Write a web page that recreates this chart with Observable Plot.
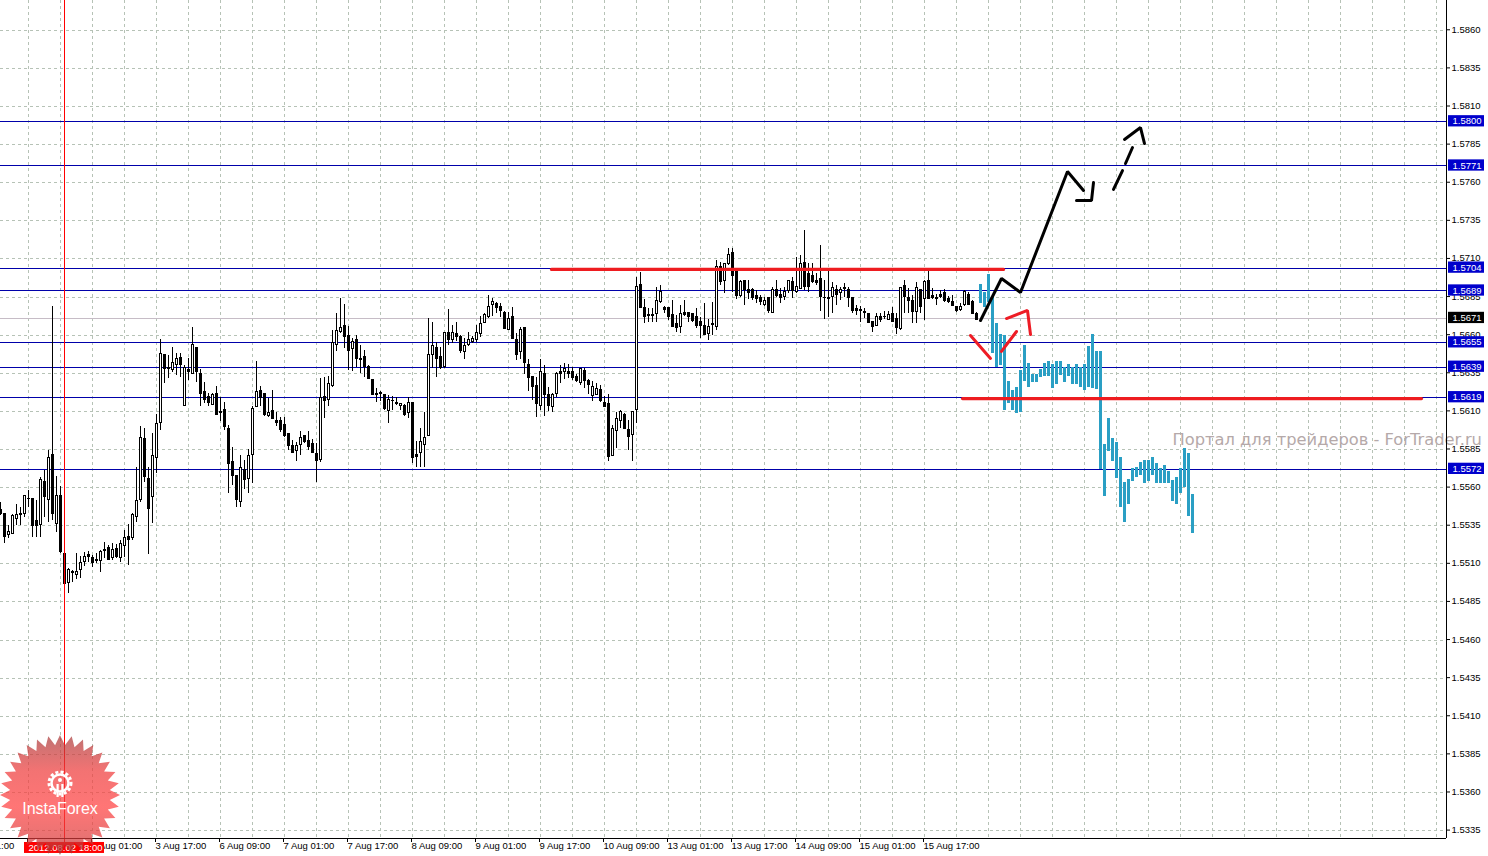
<!DOCTYPE html>
<html><head><meta charset="utf-8">
<script src="https://cdn.jsdelivr.net/npm/d3@7"></script>
<script src="https://cdn.jsdelivr.net/npm/@observablehq/plot@0.6"></script>
<style>html,body{margin:0;padding:0;background:#fff}#chart{position:relative;width:1488px;height:856px;overflow:hidden}svg{display:block}</style>
</head><body><div id="chart"></div>
<script>
const opens=[1.55450,1.55424,1.55288,1.55297,1.55393,1.55428,1.55428,1.55527,1.55522,1.55378,1.55356,1.55640,1.55520,1.55811,1.55358,1.55542,1.55166,1.54973,1.55045,1.55024,1.55061,1.55115,1.55155,1.55139,1.55126,1.55118,1.55190,1.55201,1.55139,1.55199,1.55137,1.55218,1.55277,1.55269,1.55406,1.55516,1.55922,1.55658,1.55537,1.55796,1.56023,1.56473,1.56384,1.56373,1.56401,1.56447,1.56134,1.56369,1.56347,1.56517,1.56347,1.56226,1.56194,1.56145,1.56215,1.56097,1.56110,1.55986,1.55769,1.55673,1.55505,1.55717,1.55656,1.55813,1.56128,1.56233,1.56211,1.56069,1.56100,1.56040,1.56040,1.56010,1.55949,1.55870,1.55839,1.55879,1.55940,1.55907,1.55885,1.55820,1.55782,1.56196,1.56176,1.56264,1.56537,1.56619,1.56657,1.56595,1.56510,1.56569,1.56444,1.56460,1.56390,1.56309,1.56215,1.56219,1.56210,1.56105,1.56171,1.56156,1.56134,1.56138,1.56088,1.56154,1.55817,1.55826,1.55882,1.55939,1.56473,1.56517,1.56460,1.56394,1.56611,1.56571,1.56608,1.56591,1.56488,1.56534,1.56552,1.56565,1.56608,1.56678,1.56718,1.56797,1.56807,1.56788,1.56748,1.56635,1.56720,1.56571,1.56488,1.56650,1.56407,1.56326,1.56269,1.56134,1.56348,1.56208,1.56127,1.56213,1.56359,1.56357,1.56361,1.56361,1.56324,1.56285,1.56368,1.56302,1.56204,1.56210,1.56237,1.56156,1.56149,1.55810,1.55974,1.56035,1.56079,1.55979,1.55944,1.56110,1.56930,1.56779,1.56733,1.56729,1.56740,1.56816,1.56779,1.56779,1.56729,1.56670,1.56652,1.56744,1.56744,1.56740,1.56718,1.56685,1.56657,1.56608,1.56670,1.56652,1.57046,1.56954,1.57068,1.57140,1.57013,1.56860,1.56958,1.56897,1.56893,1.56860,1.56845,1.56801,1.56842,1.56744,1.56897,1.56862,1.56853,1.56888,1.56952,1.56880,1.56904,1.57074,1.56998,1.56991,1.56958,1.56969,1.56847,1.56845,1.56853,1.56899,1.56875,1.56908,1.56899,1.56842,1.56772,1.56768,1.56751,1.56740,1.56685,1.56663,1.56718,1.56720,1.56702,1.56740,1.56705,1.56641,1.56921,1.56845,1.56821,1.56751,1.56897,1.56836,1.56958,1.56860,1.56845,1.56866,1.56875,1.56838,1.56818,1.56788,1.56762,1.56797,1.56866,1.56816,1.56740];
const highs=[1.55505,1.55424,1.55352,1.55422,1.55489,1.55467,1.55548,1.55581,1.55522,1.55516,1.55669,1.55712,1.55844,1.56788,1.55673,1.55607,1.55275,1.55067,1.55056,1.55166,1.55148,1.55177,1.55183,1.55155,1.55166,1.55188,1.55242,1.55220,1.55231,1.55227,1.55253,1.55319,1.55358,1.55428,1.55734,1.56001,1.55986,1.55734,1.55957,1.56078,1.56570,1.56473,1.56467,1.56522,1.56482,1.56482,1.56399,1.56445,1.56653,1.56517,1.56373,1.56292,1.56220,1.56215,1.56264,1.56194,1.56161,1.56008,1.55865,1.55673,1.55811,1.55778,1.55848,1.56132,1.56428,1.56264,1.56215,1.56183,1.56237,1.56095,1.56058,1.56058,1.55949,1.55909,1.55898,1.55970,1.55942,1.55970,1.55914,1.55887,1.56314,1.56320,1.56329,1.56631,1.56745,1.56838,1.56801,1.56657,1.56576,1.56598,1.56532,1.56499,1.56401,1.56309,1.56248,1.56232,1.56210,1.56204,1.56197,1.56193,1.56154,1.56145,1.56189,1.56154,1.55902,1.55985,1.56095,1.56707,1.56685,1.56554,1.56521,1.56619,1.56766,1.56663,1.56685,1.56598,1.56576,1.56619,1.56591,1.56663,1.56722,1.56744,1.56860,1.56838,1.56816,1.56810,1.56757,1.56751,1.56783,1.56608,1.56652,1.56650,1.56438,1.56324,1.56324,1.56438,1.56401,1.56259,1.56215,1.56355,1.56401,1.56416,1.56405,1.56390,1.56342,1.56383,1.56383,1.56307,1.56296,1.56280,1.56269,1.56197,1.56208,1.56005,1.56095,1.56105,1.56084,1.56040,1.56101,1.56980,1.57009,1.56831,1.56772,1.56772,1.56915,1.56926,1.56788,1.56783,1.56827,1.56729,1.56794,1.56827,1.56751,1.56744,1.56772,1.56718,1.56805,1.56700,1.56816,1.57090,1.57079,1.57072,1.57166,1.57166,1.57024,1.56958,1.56958,1.56958,1.56904,1.56893,1.56860,1.56849,1.56849,1.56915,1.56958,1.56904,1.56915,1.56958,1.56980,1.57111,1.57122,1.57286,1.57068,1.57068,1.57002,1.57188,1.56958,1.57024,1.56947,1.56926,1.56915,1.56936,1.56915,1.56849,1.56794,1.56788,1.56772,1.56740,1.56692,1.56740,1.56744,1.56757,1.56757,1.56783,1.56740,1.56915,1.56958,1.56904,1.56860,1.56947,1.56897,1.56958,1.57024,1.56904,1.56866,1.56893,1.56899,1.56853,1.56860,1.56788,1.56805,1.56893,1.56882,1.56827,1.56751];
const lows=[1.55417,1.55231,1.55264,1.55293,1.55352,1.55352,1.55406,1.55472,1.55275,1.55275,1.55271,1.55406,1.55373,1.55384,1.55308,1.55166,1.54914,1.54908,1.54980,1.54997,1.55002,1.55083,1.55111,1.55078,1.55104,1.55045,1.55133,1.55122,1.55122,1.55133,1.55111,1.55144,1.55087,1.55253,1.55373,1.55505,1.55636,1.55161,1.55367,1.55691,1.55975,1.56281,1.56314,1.56358,1.56336,1.56325,1.56134,1.56303,1.56340,1.56292,1.56134,1.56150,1.56132,1.56139,1.56075,1.56036,1.55975,1.55559,1.55614,1.55467,1.55467,1.55586,1.55559,1.55625,1.56124,1.56132,1.56067,1.56058,1.56045,1.56001,1.55964,1.55931,1.55844,1.55826,1.55774,1.55811,1.55887,1.55844,1.55822,1.55636,1.55767,1.56056,1.56132,1.56255,1.56495,1.56608,1.56510,1.56368,1.56364,1.56390,1.56346,1.56320,1.56307,1.56204,1.56160,1.56167,1.56105,1.56022,1.56105,1.56138,1.56105,1.56066,1.56051,1.55756,1.55734,1.55734,1.55729,1.55937,1.56379,1.56324,1.56374,1.56379,1.56532,1.56547,1.56560,1.56482,1.56440,1.56525,1.56543,1.56554,1.56582,1.56674,1.56707,1.56722,1.56740,1.56718,1.56641,1.56630,1.56571,1.56434,1.56438,1.56342,1.56232,1.56171,1.56057,1.56105,1.56066,1.56097,1.56095,1.56193,1.56280,1.56307,1.56313,1.56302,1.56291,1.56269,1.56248,1.56210,1.56167,1.56204,1.56160,1.56127,1.55773,1.55804,1.55854,1.55985,1.55979,1.55843,1.55773,1.56018,1.56772,1.56674,1.56685,1.56685,1.56685,1.56805,1.56740,1.56696,1.56652,1.56619,1.56613,1.56722,1.56685,1.56685,1.56641,1.56576,1.56604,1.56565,1.56597,1.56630,1.56926,1.56875,1.57057,1.56877,1.56831,1.56845,1.56794,1.56834,1.56827,1.56805,1.56794,1.56788,1.56740,1.56740,1.56849,1.56810,1.56827,1.56875,1.56838,1.56875,1.56897,1.56893,1.56882,1.56936,1.56926,1.56757,1.56702,1.56713,1.56740,1.56794,1.56827,1.56849,1.56783,1.56740,1.56729,1.56685,1.56707,1.56674,1.56619,1.56657,1.56685,1.56705,1.56696,1.56685,1.56604,1.56630,1.56740,1.56740,1.56674,1.56674,1.56740,1.56696,1.56834,1.56831,1.56794,1.56838,1.56816,1.56805,1.56794,1.56751,1.56755,1.56788,1.56794,1.56735,1.56696];
const closes=[1.55424,1.55275,1.55310,1.55411,1.55422,1.55419,1.55542,1.55522,1.55347,1.55347,1.55651,1.55537,1.55796,1.55424,1.55548,1.55177,1.54969,1.55061,1.55039,1.55045,1.55107,1.55148,1.55144,1.55104,1.55118,1.55179,1.55185,1.55126,1.55188,1.55144,1.55231,1.55271,1.55258,1.55422,1.55509,1.55927,1.55669,1.55461,1.55809,1.56019,1.56478,1.56379,1.56379,1.56419,1.56441,1.56401,1.56382,1.56358,1.56533,1.56358,1.56211,1.56176,1.56154,1.56209,1.56075,1.56089,1.55997,1.55756,1.55673,1.55516,1.55730,1.55651,1.55809,1.56117,1.56229,1.56189,1.56075,1.56091,1.56049,1.56023,1.55981,1.55938,1.55876,1.55828,1.55870,1.55927,1.55896,1.55865,1.55826,1.55774,1.56189,1.56167,1.56281,1.56548,1.56627,1.56648,1.56587,1.56495,1.56558,1.56442,1.56434,1.56394,1.56313,1.56206,1.56208,1.56215,1.56114,1.56175,1.56167,1.56147,1.56149,1.56073,1.56158,1.55791,1.55804,1.55900,1.55926,1.56473,1.56532,1.56442,1.56385,1.56615,1.56565,1.56617,1.56591,1.56493,1.56532,1.56569,1.56576,1.56615,1.56670,1.56729,1.56788,1.56818,1.56775,1.56757,1.56643,1.56707,1.56573,1.56473,1.56637,1.56416,1.56318,1.56259,1.56149,1.56359,1.56210,1.56134,1.56208,1.56346,1.56346,1.56381,1.56342,1.56320,1.56298,1.56379,1.56302,1.56276,1.56259,1.56250,1.56167,1.56132,1.55804,1.55985,1.56051,1.56095,1.55983,1.55935,1.56097,1.56915,1.56779,1.56722,1.56727,1.56724,1.56827,1.56882,1.56762,1.56718,1.56652,1.56648,1.56740,1.56729,1.56722,1.56696,1.56663,1.56663,1.56604,1.56652,1.56665,1.57046,1.56947,1.57068,1.57129,1.56991,1.56860,1.56952,1.56893,1.56875,1.56845,1.56838,1.56816,1.56827,1.56757,1.56899,1.56858,1.56842,1.56882,1.56954,1.56888,1.56919,1.57068,1.56915,1.56915,1.56947,1.56943,1.56853,1.56845,1.56838,1.56910,1.56866,1.56897,1.56904,1.56842,1.56757,1.56757,1.56757,1.56746,1.56678,1.56652,1.56718,1.56700,1.56716,1.56729,1.56689,1.56648,1.56910,1.56853,1.56821,1.56753,1.56910,1.56783,1.56952,1.56838,1.56845,1.56838,1.56853,1.56827,1.56816,1.56794,1.56757,1.56788,1.56882,1.56799,1.56740,1.56702];
const forecastHighs=[1.56933,1.56882,1.56998,1.56849,1.56674,1.56604,1.56598,1.56296,1.56237,1.56259,1.56368,1.56532,1.56412,1.56340,1.56342,1.56373,1.56412,1.56425,1.56408,1.56425,1.56425,1.56386,1.56408,1.56386,1.56405,1.56390,1.56408,1.56526,1.56602,1.56493,1.56493,1.55883,1.56051,1.55920,1.55896,1.55797,1.55631,1.55653,1.55723,1.55734,1.55762,1.55778,1.55778,1.55795,1.55756,1.55723,1.55745,1.55706,1.55647,1.55664,1.55723,1.55854,1.55822,1.55555];
const forecastLows=[1.56810,1.56784,1.56817,1.56482,1.56386,1.56401,1.56106,1.56154,1.56106,1.56088,1.56095,1.56298,1.56259,1.56292,1.56292,1.56320,1.56331,1.56331,1.56252,1.56276,1.56335,1.56290,1.56329,1.56276,1.56276,1.56255,1.56237,1.56255,1.56248,1.56241,1.55717,1.55542,1.55839,1.55771,1.55660,1.55472,1.55373,1.55489,1.55642,1.55664,1.55679,1.55629,1.55640,1.55679,1.55629,1.55629,1.55625,1.55629,1.55511,1.55489,1.55563,1.55598,1.55410,1.55297];
const priceTicks=[1.5860,1.5835,1.5810,1.5785,1.5760,1.5735,1.5710,1.5685,1.5660,1.5635,1.5610,1.5585,1.5560,1.5535,1.5510,1.5485,1.5460,1.5435,1.5410,1.5385,1.5360,1.5335];
const timeTickBars=[-9,7,23,39,55,71,87,103,119,135,151,167,183,199,215,231];
const timeTickLabels=["2 Aug 01:00","2 Aug 17:00","3 Aug 01:00","3 Aug 17:00","6 Aug 09:00","7 Aug 01:00","7 Aug 17:00","8 Aug 09:00","9 Aug 01:00","9 Aug 17:00","10 Aug 09:00","13 Aug 01:00","13 Aug 17:00","14 Aug 09:00","15 Aug 01:00","15 Aug 17:00"];
const levels=[1.5800,1.5771,1.5704,1.5689,1.5655,1.5639,1.5619,1.5572];
const bidLevel=1.5671;
const cursorBar=16;
const cursorLabel="2012.08.02 18:00";
const resistance={x:[137.75,250.75],y:[1.57031,1.57031]};
const support={x:[240.5,355.25],y:[1.56184,1.56184]};
const blackPaths=[
 {x:[245,250.25,255,266.75,270.75],y:[1.56696,1.56972,1.56880,1.57674,1.57549]},
 {x:[269,272.75,273.25],y:[1.57483,1.57483,1.57601]},
 {x:[278.25,280.5],y:[1.57556,1.57680]},
 {x:[281.25,283],y:[1.57726,1.57831]},
 {x:[281,285,286],y:[1.57884,1.57962,1.57857]}];
const redPaths=[
 {x:[242.5,247.5],y:[1.56598,1.56447]},
 {x:[250.25,254],y:[1.56493,1.56624]},
 {x:[251.5,256.75,257.5],y:[1.56709,1.56762,1.56604]}];
const watermark="Портал для трейдеров - ForTrader.ru";

const bars=opens.map((o,i)=>({i,o,h:highs[i],l:lows[i],c:closes[i]}));
const forecast=forecastHighs.map((h,k)=>({i:245+k,h,l:forecastLows[k]}));
const gridBars=d3.range(7,360,8);
const lineRows=ps=>ps.flatMap((p,k)=>p.x.map((x,j)=>({x,y:p.y[j],k})));
const labelRows=[...levels.map(v=>({v,bg:"#0000cc"})),{v:bidLevel,bg:"#000"}];
const axisFont="Liberation Sans, Arial, sans-serif";
const gridStroke="#b6c2b6";

const plot=Plot.plot({
 width:1488,height:856,marginLeft:0,marginRight:42,marginTop:0,marginBottom:18,
 style:{background:"#fff",fontFamily:axisFont,fontSize:"9.5px",color:"#000",overflow:"hidden"},
 x:{domain:[0,361.5],range:[0,1446]},
 y:{domain:[1.532981,1.587954],range:[838,0]},
 marks:[
  Plot.gridX(gridBars,{stroke:gridStroke,strokeOpacity:1,strokeDasharray:"3,3",shapeRendering:"crispEdges"}),
  Plot.gridY(priceTicks,{stroke:gridStroke,strokeOpacity:1,strokeDasharray:"3,3",shapeRendering:"crispEdges"}),
  Plot.ruleY([bidLevel],{stroke:"#c6bcc6",shapeRendering:"crispEdges"}),
  Plot.ruleY(levels,{stroke:"#0000aa",shapeRendering:"crispEdges"}),
  Plot.ruleX(bars,{x:"i",y1:"l",y2:"h",stroke:"#000",shapeRendering:"crispEdges"}),
  Plot.rect(bars,{x1:d=>d.i-0.125,x2:d=>d.i+0.375,y1:"o",y2:"c",fill:d=>d.c>=d.o?"#fff":"#000",stroke:"#000",shapeRendering:"crispEdges"}),
  Plot.ruleX(forecast,{x:"i",y1:"l",y2:"h",stroke:"#2a9fc4",strokeWidth:3,shapeRendering:"crispEdges"}),
  Plot.ruleX([cursorBar],{y1:1.587954,y2:1.5327,stroke:"#ff0000",shapeRendering:"crispEdges"}),
  Plot.line(lineRows([resistance,support]),{x:"x",y:"y",z:"k",stroke:"#ee1c20",strokeWidth:3.2}),
  Plot.line(lineRows(redPaths),{x:"x",y:"y",z:"k",stroke:"#ee1c25",strokeWidth:3,strokeLinejoin:"miter"}),
  Plot.line(lineRows(blackPaths),{x:"x",y:"y",z:"k",stroke:"#000",strokeWidth:3,strokeLinejoin:"miter"}),
  Plot.text([watermark],{x:[293],y:[1.55915],text:d=>d,textAnchor:"start",fill:"#b5a9a9",fontSize:16.3,fontFamily:"DejaVu Sans"}),
  Plot.ruleY([1.532981],{stroke:"#000",shapeRendering:"crispEdges"}),
  Plot.ruleX([361.5],{stroke:"#000",shapeRendering:"crispEdges"}),
  Plot.axisY(priceTicks,{anchor:"right",label:null,tickSize:3,tickPadding:2,dy:-0.5,tickFormat:d3.format(".4f"),fill:"#000",stroke:"#000"}),
  Plot.axisX(timeTickBars,{anchor:"bottom",label:null,tickSize:4,tickPadding:0,textAnchor:"start",dx:-1,tickFormat:d=>timeTickLabels[timeTickBars.indexOf(d)],fill:"#000",stroke:"#000"}),
  Plot.rect(labelRows,{x1:362,x2:371,y1:d=>d.v+0.0004,y2:d=>d.v-0.00034,fill:"bg"}),
  Plot.text(labelRows,{x:363,y:d=>d.v+0.00003,text:d=>d.v.toFixed(4),fill:"#fff",textAnchor:"start",fontSize:9.5}),
  Plot.rect([cursorLabel],{x1:6,x2:26,y1:1.53272,y2:1.5320,fill:"#ff0000"}),
  Plot.text([cursorLabel],{x:[7],y:[1.53236],text:d=>d,fill:"#fff",textAnchor:"start",fontSize:9.5})
 ]
});
document.getElementById("chart").append(plot);

// decorative InstaForex seal, drawn over the finished chart
const svg=d3.select(plot);
const grad=svg.append("defs").append("linearGradient").attr("id","seal").attr("x1",0).attr("x2",0).attr("y1",0).attr("y2",1);
[[0,"#a83c3c"],[0.3,"#ee3c3c"],[0.6,"#ff4040"],[0.85,"#e03c3c"],[1,"#963232"]].forEach(([o,c])=>grad.append("stop").attr("offset",o).attr("stop-color",c));
const seal=svg.append("g").attr("transform","translate(60,795)");
const teeth=32,star=[];
for(let k=0;k<teeth*2;k++){const r=k%2?50:60,a=k*Math.PI/teeth;star.push([r*Math.sin(a),-r*Math.cos(a)].map(v=>v.toFixed(1)).join(","));}
seal.append("polygon").attr("points",star.join(" ")).attr("fill","url(#seal)").attr("opacity",0.72);
seal.append("circle").attr("cy",-12).attr("r",8.5).attr("fill","none").attr("stroke","#fff").attr("stroke-width",2.5);
seal.append("circle").attr("cy",-12).attr("r",11).attr("fill","none").attr("stroke","#fff").attr("stroke-width",3).attr("stroke-dasharray","3,2.2");
seal.append("circle").attr("cy",-15).attr("r",2).attr("fill","#fff");
seal.append("rect").attr("x",-3.5).attr("y",-11).attr("width",2.2).attr("height",13).attr("fill","#fff");
seal.append("rect").attr("x",1.3).attr("y",-11).attr("width",2.2).attr("height",13).attr("fill","#fff");
seal.append("text").attr("y",18.5).attr("text-anchor","middle").attr("fill","#fff").attr("font-size",16).attr("font-family","Liberation Sans").text("InstaForex");
</script></body></html>
